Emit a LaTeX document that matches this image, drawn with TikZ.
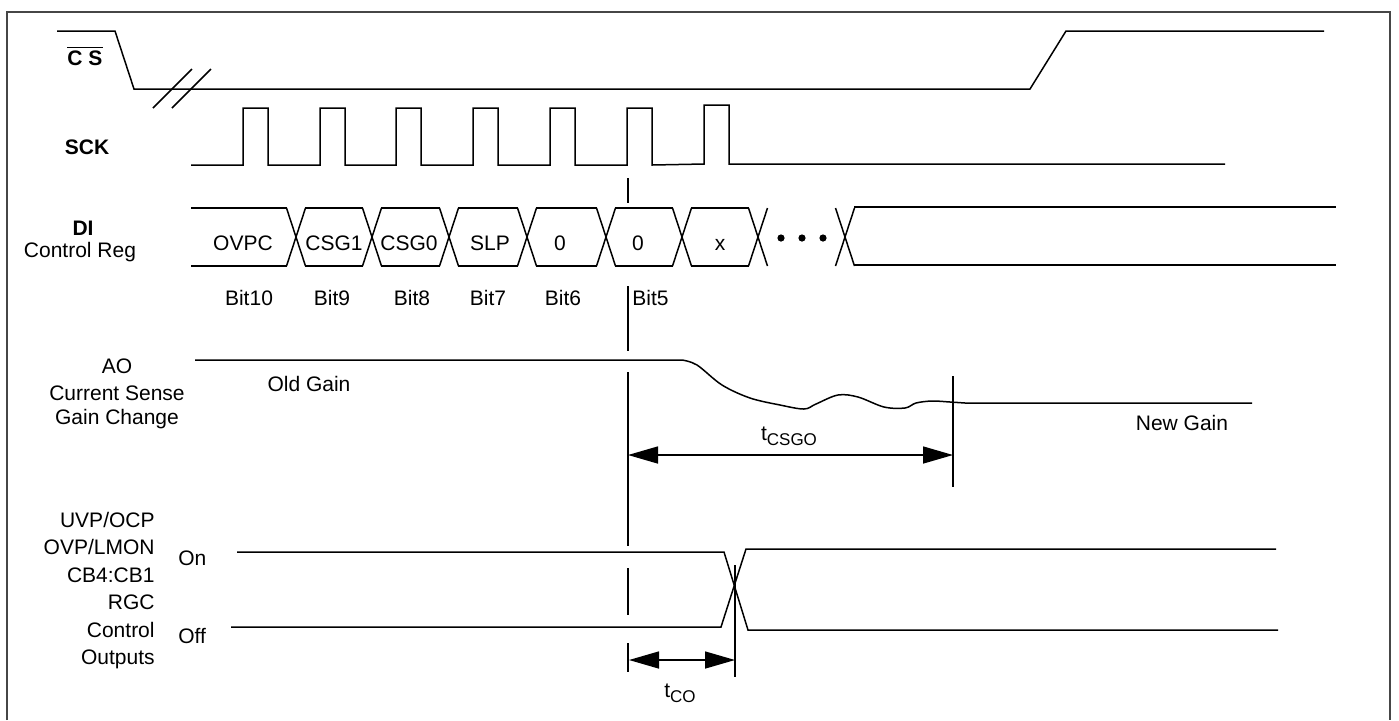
\documentclass[tikz,border=0pt]{standalone}
\usepackage{fontspec}
\setmainfont{Liberation Sans}
\usepackage{tikz}
\usetikzlibrary{arrows.meta, positioning, calc}
\definecolor{framegray}{RGB}{70, 70, 70}
\tikzset{
  wave/.style={line width=0.75pt},
  marker/.style={line width=0.6pt},
  lbl/.style={inner sep=0pt, anchor=base, font=\fontsize{10.5}{12.6}\selectfont},
  siglbl/.style={lbl, font=\fontsize{10.5}{12.6}\selectfont\bfseries},
  dimarrow/.style={line width=0.75pt, {Triangle[length=15pt, width=8.5pt]}-{Triangle[length=15pt, width=8.5pt]}},
}
\newcommand{\subtxt}[1]{\raisebox{-0.45ex}{\fontsize{8.5}{10}\selectfont #1}}

\begin{document}
\begin{tikzpicture}[x=0.5pt, y=-0.5pt]
  \useasboundingbox (0,0) rectangle (1399,720);
  \draw[framegray, line width=1pt] (7,720) -- (7,12) -- (1390,12) -- (1390,720);

  % chip select
  \node[siglbl] (cs) at (85,65) {$\overline{\mbox{C S}}$};
  \draw[wave] (57,31) -- (115,31) -- (134,89) -- (1030,89) -- (1066,31) -- (1324,31);
  \draw[wave] (153,108) -- (192,69) (172,108) -- (211,69);

  % clock
  \node[siglbl] (sck) at (87,154) {SCK};
  \draw[wave] (191,165) \foreach \x in {243,320,396,473,550,627} {-- (\x,165) -- (\x,108) -- (\x+25,108) -- (\x+25,165)}
    -- (704,164) -- (704,105) -- (729,105) -- (729,164) -- (1225,164);

  % data in
  \node[siglbl] (di) at (83,235) {DI};
  \node[lbl] (ctrlreg) at (80,257) {Control Reg};
  \draw[wave] (191,208) -- (287,208) (191,266) -- (287,266);
  \foreach \a/\b in {296/372, 372/449, 449/527, 527/606, 606/682, 682/758}
    \draw[wave] (\a+9,208) -- (\b-9,208) (\a+9,266) -- (\b-9,266);
  \foreach \t in {296,372,449,527,606,682,758,845}
    \draw[wave] (\t-9.5,208) -- (\t+9.5,266) (\t-9.5,266) -- (\t+9.5,208);
  \draw[wave] (854,207) -- (1336,207) (854,265) -- (1336,265);
  \foreach \x in {781,802,823} \fill (\x,238) circle[radius=1.8pt];
  \foreach \x/\txt [count=\i] in {243/OVPC, 334/CSG1, 409/CSG0, 490/SLP, 560/0, 638/0, 720/x}
    \node[lbl] (d\i) at (\x,250.5) {\txt};
  \foreach \x/\n in {249/10, 332/9, 412/8, 488/7, 563/6}
    \node[lbl] (bit\n) at (\x,305) {Bit\n};
  \node[lbl, anchor=base west] (bit5) at (632,305) {Bit5};

  % marker line
  \draw[marker] (628,178) -- (628,203) (628,286) -- (628,351) (628,372) -- (628,546)
    (628,568) -- (628,615) (628,643) -- (628,672);

  % current sense gain
  \node[lbl] (ao) at (117,373) {AO};
  \node[lbl] (csense) at (117,400) {Current Sense};
  \node[lbl] (gchange) at (117,424) {Gain Change};
  \node[lbl] (oldgain) at (309,391) {Old Gain};
  \node[lbl] (newgain) at (1182,430) {New Gain};
  \draw[wave] (195,360) -- (682,360) -- plot[smooth, tension=0.55] coordinates {(682,360) (697,365) (722,385) (750,398)
    (780,405) (804,409) (816,404) (838,395) (858,397) (884,407) (905,408) (916,403) (932,401) (950,402) (965,403)} -- (1252,403);
  \draw[marker] (953,376) -- (953,487);
  \coordinate (gstart) at (628,455);
  \coordinate (gend) at (953,455);
  \draw[dimarrow] (gstart) -- (gend);
  \node[lbl] (tcsgo) at (789,440) {t\subtxt{CSGO}};

  % control outputs
  \node[lbl, anchor=base east] (uvp) at (155,527) {UVP/OCP};
  \node[lbl, anchor=base east] (ovp) at (155,554.5) {OVP/LMON};
  \node[lbl, anchor=base east] (cb) at (155,582) {CB4:CB1};
  \node[lbl, anchor=base east] (rgc) at (155,609.5) {RGC};
  \node[lbl, anchor=base east] (ctrl) at (155,637) {Control};
  \node[lbl, anchor=base east] (outs) at (155,664.5) {Outputs};
  \node[lbl, anchor=base west] (on) at (178,565) {On};
  \node[lbl, anchor=base west] (off) at (178,643) {Off};
  \draw[wave] (237,552) -- (724,552) -- (748,630) -- (1278,630);
  \draw[wave] (231,627) -- (721,627) -- (746,549) -- (1276,549);
  \draw[marker] (735,565) -- (735,677);
  \coordinate (cstart) at (629,660);
  \coordinate (cend) at (735,660);
  \draw[dimarrow] (cstart) -- (cend);
  \node[lbl] (tco) at (680,697) {t\subtxt{CO}};
\end{tikzpicture}
\end{document}
